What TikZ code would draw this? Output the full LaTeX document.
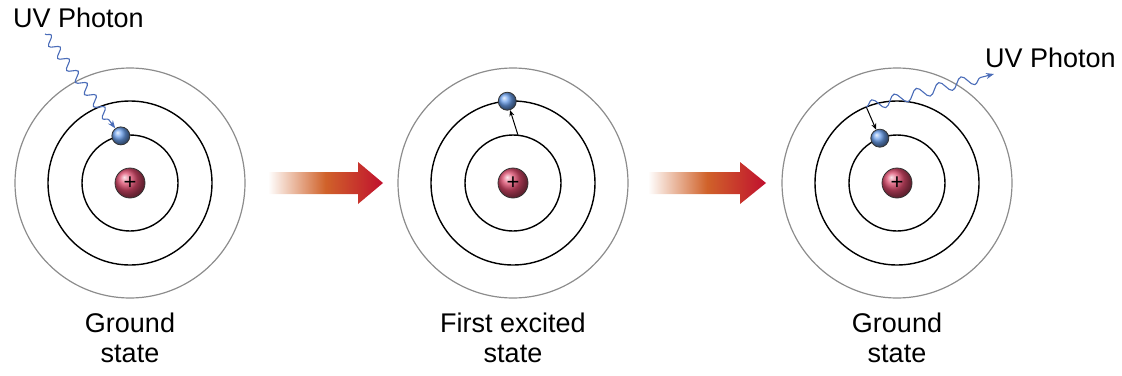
\documentclass[tikz,border=0pt]{standalone}
\usepackage{fontspec}
\setmainfont{Liberation Sans}
\usetikzlibrary{arrows.meta,decorations.pathmorphing}
\pgfdeclarelayer{edgelayer}
\pgfdeclarelayer{nodelayer}
\pgfsetlayers{edgelayer,nodelayer,main}
\definecolor{photonblue}{HTML}{4A6CB8}
\definecolor{electronblue}{HTML}{6A9EEA}
\definecolor{nucleusred}{HTML}{DC4A6C}
\definecolor{arrowred}{HTML}{C0102E}
\definecolor{arroworange}{HTML}{D0622A}
\tikzstyle{orbit}=[draw=black, line width=1.4pt]
\tikzstyle{outerorbit}=[draw=black!45, line width=1.2pt]
\tikzstyle{nucleus}=[circle, draw=black!80, line width=0.8pt, ball color=nucleusred, minimum size=30pt, inner sep=0pt, font=\fontsize{22}{22}\selectfont]
\tikzstyle{electron}=[circle, draw=black!80, line width=0.8pt, ball color=electronblue, minimum size=18pt, inner sep=0pt]
\tikzstyle{photon}=[draw=photonblue, line width=1.1pt, -{Stealth[length=8pt,width=6pt]}, decorate, decoration={snake, amplitude=4.5pt, segment length=15pt, post length=8pt}]
\tikzstyle{jump}=[draw=black, line width=1pt, -{Stealth[length=6pt,width=5pt]}]
\tikzstyle{statelabel}=[font=\fontsize{27}{30}\selectfont, align=center, anchor=north, inner sep=0pt]
\tikzstyle{photonlabel}=[font=\fontsize{27}{30}\selectfont, anchor=base west, inner sep=0pt]
\tikzstyle{bigarrow}=[left color=white, right color=arrowred, middle color=arroworange, draw=none]

\begin{document}
\begin{tikzpicture}[x=1pt, y=-1pt]
	\useasboundingbox (0,0) rectangle (1122,375);
	\begin{pgfonlayer}{nodelayer}
		\node [style=nucleus] (nucA) at (130, 183) {+};
		\node [style=nucleus] (nucB) at (513, 183) {+};
		\node [style=nucleus] (nucC) at (897, 183) {+};
		\node [style=electron] (eA) at ([shift={(101:48pt)}]nucA) {};
		\node [style=electron] (eB) at ([shift={(94:82pt)}]nucB) {};
		\node [style=electron] (eC) at ([shift={(111:48pt)}]nucC) {};
		\coordinate (jB) at ([shift={(84:48pt)}]nucB);
		\coordinate (jC) at ([shift={(112:82pt)}]nucC);
		\coordinate (phA) at (45, 34);
		\coordinate (phC) at (994, 74);
		\node [style=photonlabel] (uvA) at (13, 27) {UV Photon};
		\node [style=photonlabel] (uvC) at (985, 67) {UV Photon};
		\node [style=statelabel] (stA) at (130, 313) {Ground\\state};
		\node [style=statelabel] (stB) at (513, 313) {First excited\\state};
		\node [style=statelabel] (stC) at (897, 313) {Ground\\state};
	\end{pgfonlayer}
	\begin{pgfonlayer}{edgelayer}
		% orbits
		\foreach \n in {nucA, nucB, nucC} {
			\draw [style=orbit] (\n) circle [radius=48pt];
			\draw [style=orbit] (\n) circle [radius=82pt];
			\draw [style=outerorbit] (\n) circle [radius=115pt];
		}
		% transitions
		\shade [style=bigarrow] (268,172) -- (358,172) -- (358,162) -- (383,183) -- (358,204) -- (358,194) -- (268,194) -- cycle;
		\shade [style=bigarrow] (648,172) -- (740,172) -- (740,162) -- (766,183) -- (740,204) -- (740,194) -- (648,194) -- cycle;
	\end{pgfonlayer}
	\draw [style=photon] (phA) -- (eA);
	\draw [style=jump] (jB) -- (eB);
	\draw [style=jump] (jC) -- (eC);
	\draw [style=photon, decoration={amplitude=5.5pt, segment length=23pt}] (jC) -- (phC);
\end{tikzpicture}
\end{document}
